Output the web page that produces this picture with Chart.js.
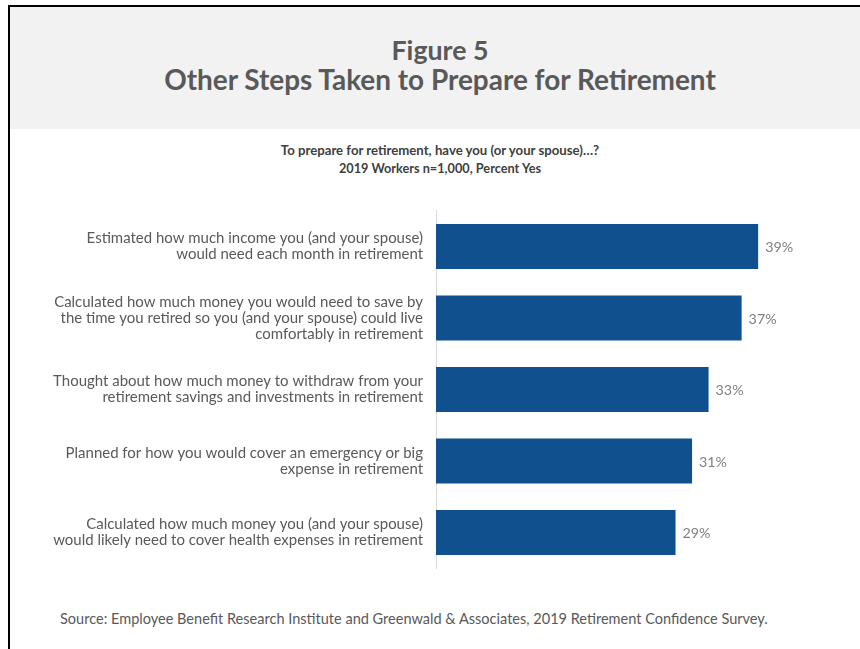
<!DOCTYPE html>
<html>
<head>
<meta charset="utf-8">
<script src="https://cdn.jsdelivr.net/npm/chart.js@4/dist/chart.umd.min.js"></script>
<style>
  html, body { margin: 0; padding: 0; background: #ffffff; }
  #wrap { position: relative; width: 860px; height: 649px; overflow: hidden; font-family: Lato, "Open Sans", sans-serif; }
  #border { position: absolute; left: 8px; top: 5px; width: 900px; height: 700px; border-left: 2px solid #000; border-top: 2px solid #000; box-sizing: border-box; }
  #header { position: absolute; left: 10px; top: 7px; width: 850px; height: 122px; background: #f2f2f2; }
  .t { position: absolute; left: 0; width: 880px; text-align: center; white-space: nowrap; line-height: 1; }
  #c { position: absolute; left: 0; top: 0; }
</style>
</head>
<body>
<div id="wrap">
  <div id="header"></div>
  <div id="border"></div>
  <div class="t" id="t1" style="color:#595959;font-weight:700;">Figure 5</div>
  <div class="t" id="t2" style="color:#595959;font-weight:700;">Other Steps Taken to Prepare for Retirement</div>
  <div class="t" id="s1" style="color:#404040;font-weight:700;">To prepare for retirement, have you (or your spouse)…?</div>
  <div class="t" id="s2" style="color:#404040;font-weight:700;">2019 Workers n=1,000, Percent Yes</div>
  <div class="t" id="src" style="color:#595959;font-weight:400;text-align:left;left:60px;">Source: Employee Benefit Research Institute and Greenwald &amp; Associates, 2019 Retirement Confidence Survey.</div>
  <canvas id="c" width="860" height="649"></canvas>
</div>
<script>
const categories = [
  ["Estimated how much income you (and your spouse)", "would need each month in retirement"],
  ["Calculated how much money you would need to save by", "the time you retired so you (and your spouse) could live", "comfortably in retirement"],
  ["Thought about how much money to withdraw from your", "retirement savings and investments in retirement"],
  ["Planned for how you would cover an emergency or big", "expense in retirement"],
  ["Calculated how much money you (and your spouse)", "would likely need to cover health expenses in retirement"]
];
const percentYes = [39, 37, 33, 31, 29];
const valueLabels = ["39%", "37%", "33%", "31%", "29%"];

const FAMILY = 'Lato, "Open Sans", sans-serif';
const mctx = document.createElement('canvas').getContext('2d');
function fitSize(text, weight, target) {
  mctx.font = weight + ' 100px ' + FAMILY;
  return 100 * target / mctx.measureText(text).width;
}
function place(id, weight, target, cy) {
  const el = document.getElementById(id);
  const size = fitSize(el.textContent, weight, target);
  el.style.fontSize = size + 'px';
  el.style.top = (cy - size * 0.5) + 'px';
}
place('t1', 700, 97, 50);
place('t2', 700, 554, 80);
place('s1', 700, 320, 151);
place('s2', 700, 203, 168);
place('src', 400, 709, 619);

const tickSize = fitSize(categories[1][0], 400, 369);
const valSize = fitSize("39%", 400, 28);

const valuePlugin = {
  id: 'valueLabels',
  afterDatasetsDraw(chart) {
    const ctx = chart.ctx;
    const meta = chart.getDatasetMeta(0);
    ctx.save();
    ctx.font = '400 ' + valSize + 'px ' + FAMILY;
    ctx.fillStyle = '#7f7f7f';
    ctx.textAlign = 'left';
    ctx.textBaseline = 'middle';
    meta.data.forEach((bar, i) => {
      ctx.fillText(valueLabels[i], bar.x + 7, bar.y + 1);
    });
    ctx.restore();
  }
};

new Chart(document.getElementById('c'), {
  type: 'bar',
  data: {
    labels: categories,
    datasets: [{
      data: percentYes,
      backgroundColor: '#11508f',
      borderWidth: 0,
      barPercentage: 0.9,
      categoryPercentage: 0.7
    }]
  },
  options: {
    indexAxis: 'y',
    responsive: false,
    animation: false,
    events: [],
    layout: { padding: { top: 210.75, bottom: 80.75, right: 11, left: 0 } },
    plugins: { legend: { display: false }, tooltip: { enabled: false } },
    scales: {
      x: { display: false, min: 0, max: 50 },
      y: {
        grid: { display: false, drawTicks: false },
        border: { display: true, color: '#d9d9d9', width: 1 },
        ticks: {
          color: '#595959',
          padding: 13,
          font: { family: FAMILY, size: tickSize, weight: '400', lineHeight: '16px' }
        },
        afterFit(scale) { scale.width = 436; }
      }
    }
  },
  plugins: [valuePlugin]
});
</script>
</body>
</html>
